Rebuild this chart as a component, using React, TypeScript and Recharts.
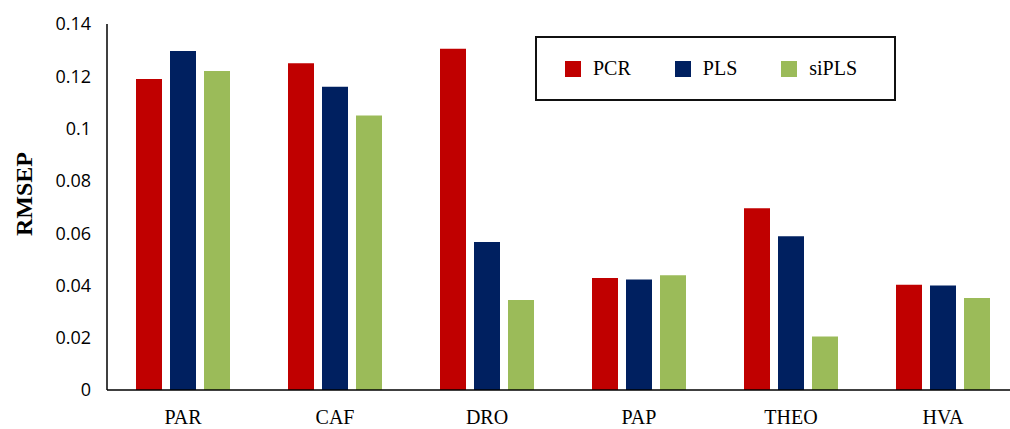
import { Bar, BarChart, XAxis, YAxis, Label } from "recharts";

// RMSEP per analyte for each regression method
const analytes = ["PAR", "CAF", "DRO", "PAP", "THEO", "HVA"];
const pcr = [0.119, 0.125, 0.1305, 0.0428, 0.0695, 0.0403];
const pls = [0.1297, 0.116, 0.0566, 0.0423, 0.0588, 0.04];
const siPls = [0.122, 0.105, 0.0344, 0.0439, 0.0205, 0.0352];
const yTicks = [0, 0.02, 0.04, 0.06, 0.08, 0.1, 0.12, 0.14];

const series = [
    { key: "PCR", color: "#C00000" },
    { key: "PLS", color: "#002060" },
    { key: "siPLS", color: "#9BBB59" },
];

const data = analytes.map((name, i) => ({
    name,
    PCR: pcr[i],
    PLS: pls[i],
    siPLS: siPls[i],
}));

const serif = "'Liberation Serif', 'Times New Roman', serif";

// legend box sits over the plot, top right
const LegendBox = () => (
    <div
        style={{
            position: "absolute",
            left: 535,
            top: 36,
            boxSizing: "border-box",
            width: 361,
            height: 65,
            border: "2px solid #111",
            background: "#fff",
            display: "flex",
            alignItems: "center",
            paddingLeft: 28,
            fontFamily: serif,
            fontSize: 20,
            color: "#000",
        }}
    >
        {series.map((s) => (
            <div key={s.key} style={{ display: "flex", alignItems: "center", marginRight: 44 }}>
                <span style={{ width: 16, height: 16, background: s.color, marginRight: 12, display: "inline-block" }} />
                <span>{s.key}</span>
            </div>
        ))}
    </div>
);

const AxisTitle = ({ viewBox }: any) => {
    const cx = viewBox.x + 24;
    const cy = viewBox.y + viewBox.height / 2 - 13;
    return (
        <text
            x={cx}
            y={cy}
            transform={`rotate(-90 ${cx} ${cy})`}
            textAnchor="middle"
            dominantBaseline="central"
            fontFamily={serif}
            fontWeight="bold"
            fontSize={24}
            fill="#000"
        >
            RMSEP
        </text>
    );
};

export default function App() {
    return (
        <div style={{ position: "fixed", left: 0, top: 0, width: 1010, height: 429, overflow: "hidden", background: "#fff" }}>
            <BarChart
                width={1030}
                height={429}
                data={data}
                margin={{ top: 24, right: 11, bottom: 0, left: 0 }}
                barSize={26}
                barGap={8}
                barCategoryGap={29}
            >
                <XAxis
                    dataKey="name"
                    height={39}
                    tickLine={false}
                    tickMargin={14}
                    axisLine={{ stroke: "#000", strokeWidth: 1.5 }}
                    tick={{ fontFamily: serif, fontSize: 20, fill: "#000" }}
                />
                <YAxis
                    width={107}
                    domain={[0, 0.14]}
                    ticks={yTicks}
                    interval={0}
                    tickLine={false}
                    tickMargin={10}
                    axisLine={{ stroke: "#000", strokeWidth: 1.5 }}
                    tick={{ fontFamily: "'Open Sans', sans-serif", fontSize: 18, fill: "#000" }}
                >
                    <Label content={AxisTitle} />
                </YAxis>
                {series.map((s) => (
                    <Bar key={s.key} dataKey={s.key} fill={s.color} isAnimationActive={false} />
                ))}
            </BarChart>
            <LegendBox />
        </div>
    );
}
